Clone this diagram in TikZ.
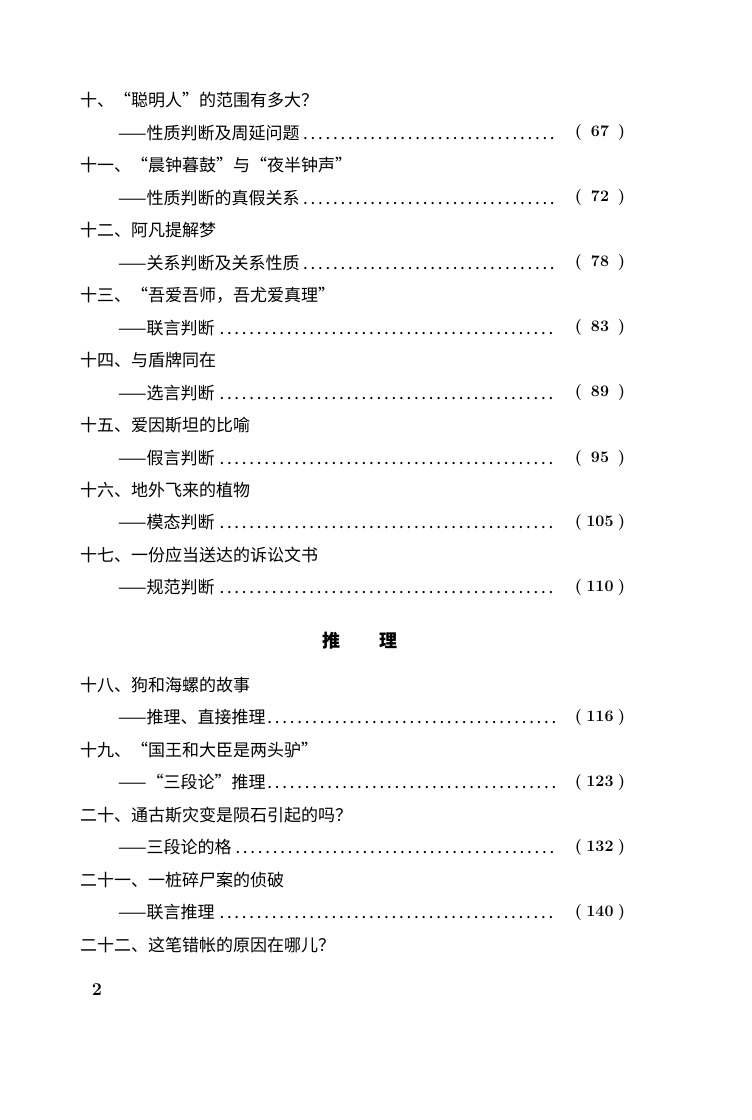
\documentclass[tikz,border=0pt]{standalone}
\usepackage{fontspec}
\newfontfamily\cjk{Noto Sans CJK SC}
\begin{document}
\begin{tikzpicture}[x=1pt,y=-1pt,
  t/.style={anchor=west,inner sep=0pt,font=\cjk\fontsize{17}{17}\selectfont},
  pg/.style={anchor=center,inner sep=0pt,font=\bfseries\fontsize{16}{16}\selectfont}]
\useasboundingbox[fill=white] (0,0) rectangle (752,1120);
\newcommand\myhd[3]{\node[t] (#1) at (80,#2) {#3};}
\newcommand\mysb[4]{\node[t] (#1) at (118,#2) {\makebox[440pt][l]{——#3\dotfill}};
  \node[pg] (#1p) at (600,#2) {(\makebox[36pt]{#4})};}
\myhd{a}{100}{十、“聪明人”的范围有多大？}
\mysb{b}{133}{性质判断及周延问题}{67}
\myhd{c}{165}{十一、“晨钟暮鼓”与“夜半钟声”}
\mysb{d}{198}{性质判断的真假关系}{72}
\myhd{e}{230}{十二、阿凡提解梦}
\mysb{f}{263}{关系判断及关系性质}{78}
\myhd{g}{295}{十三、“吾爱吾师，吾尤爱真理”}
\mysb{h}{328}{联言判断}{83}
\myhd{i}{360}{十四、与盾牌同在}
\mysb{j}{393}{选言判断}{89}
\myhd{k}{425}{十五、爱因斯坦的比喻}
\mysb{l}{458}{假言判断}{95}
\myhd{m}{490}{十六、地外飞来的植物}
\mysb{n}{522}{模态判断}{105}
\myhd{o}{555}{十七、一份应当送达的诉讼文书}
\mysb{p}{587}{规范判断}{110}
\node[t,anchor=center,font=\cjk\bfseries\fontsize{18}{18}\selectfont] (sec) at (360,641) {推\hspace{40pt}理};
\myhd{q}{685}{十八、狗和海螺的故事}
\mysb{r}{717}{推理、直接推理}{116}
\myhd{s}{750}{十九、“国王和大臣是两头驴”}
\mysb{u}{782}{“三段论”推理}{123}
\myhd{v}{815}{二十、通古斯灾变是陨石引起的吗？}
\mysb{w}{847}{三段论的格}{132}
\myhd{x}{880}{二十一、一桩碎尸案的侦破}
\mysb{y}{912}{联言推理}{140}
\myhd{z}{945}{二十二、这笔错帐的原因在哪儿？}
\node[pg,font=\bfseries\fontsize{18}{18}\selectfont] (num) at (97,990) {2};
\end{tikzpicture}
\end{document}
